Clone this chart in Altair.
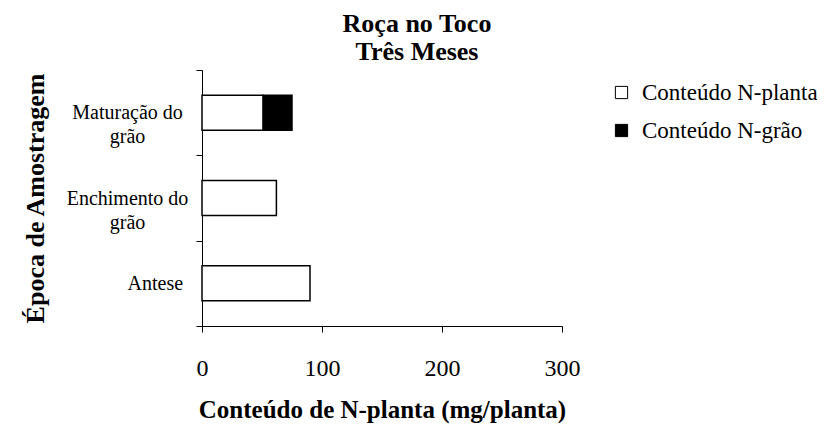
import altair as alt
import pandas as pd

categories = ["Maturação do grão", "Enchimento do grão", "Antese"]
series = ["Conteúdo N-planta", "Conteúdo N-grão"]
n_planta = [51, 62, 90]
n_grao = [24, 0, 0]
x_ticks = [0, 100, 200, 300]

rows = []
for c, p, g in zip(categories, n_planta, n_grao):
    rows.append({"cat": c, "serie": series[0], "val": p, "ord": 0})
    if g:
        rows.append({"cat": c, "serie": series[1], "val": g, "ord": 1})
df = pd.DataFrame(rows)

label_map = {
    "Maturação do grão": ["Maturação do", "grão"],
    "Enchimento do grão": ["Enchimento do", "grão"],
    "Antese": ["Antese"],
}
expr_parts = []
for k, v in label_map.items():
    arr = "[" + ",".join("'" + s + "'" for s in v) + "]"
    expr_parts.append(f"datum.value == '{k}' ? {arr} : ")
label_expr = "".join(expr_parts) + "datum.label"

FONT = "Liberation Serif"

chart = (
    alt.Chart(df)
    .mark_bar(stroke="black", strokeWidth=1.5, height={"band": 0.41})
    .encode(
        x=alt.X(
            "val:Q",
            stack="zero",
            scale=alt.Scale(domain=[0, 300], nice=False),
            axis=alt.Axis(
                title="Conteúdo de N-planta (mg/planta)",
                values=x_ticks,
                grid=False,
                tickSize=6,
                labelFlush=False,
                labelPadding=24,
                labelFontSize=24,
                titleFontSize=25,
                titlePadding=17,
            ),
        ),
        y=alt.Y(
            "cat:N",
            sort=categories,
            scale=alt.Scale(paddingInner=0, paddingOuter=0),
            axis=alt.Axis(
                title="Época de Amostragem",
                labelExpr=label_expr,
                tickBand="extent",
                tickSize=6,
                labelPadding=69,
                labelAlign={
                    "condition": {"test": "datum.value == 'Antese'", "value": "left"},
                    "value": "center",
                },
                labelFontSize=20,
                labelLineHeight=24,
                titleFontSize=26,
                titlePadding=18,
            ),
        ),
        fill=alt.Fill(
            "serie:N",
            scale=alt.Scale(domain=series, range=["white", "black"]),
            legend=alt.Legend(
                title=None,
                orient="none",
                legendX=408,
                legendY=11,
                symbolType="square",
                symbolSize=150,
                symbolStrokeColor="black",
                symbolStrokeWidth=1,
                symbolOpacity=1,
                labelFontSize=23,
                labelOffset=9,
                labelLimit=400,
                rowPadding=14,
                padding=0,
            ),
        ),
        order=alt.Order("ord:Q"),
    )
    .properties(
        width=360,
        height=256,
        title=alt.TitleParams(
            text=["Roça no Toco", "Três Meses"],
            fontSize=26,
            fontWeight="bold",
            lineHeight=28,
            anchor="middle",
            dx=35,
            dy=15,
            offset=10,
        ),
        autosize=alt.AutoSizeParams(type="none"),
        padding={"left": 194, "top": 62, "right": 255, "bottom": 99},
    )
    .configure(font=FONT, background="white")
    .configure_axis(
        domainColor="black",
        tickColor="black",
        labelColor="black",
        titleColor="black",
        labelFont=FONT,
        titleFont=FONT,
        titleFontWeight="bold",
    )
    .configure_legend(labelFont=FONT, labelColor="black")
    .configure_title(font=FONT, color="black")
    .configure_view(stroke=None)
)

chart.save("out.html", embed_options={"renderer": "svg", "actions": False})
